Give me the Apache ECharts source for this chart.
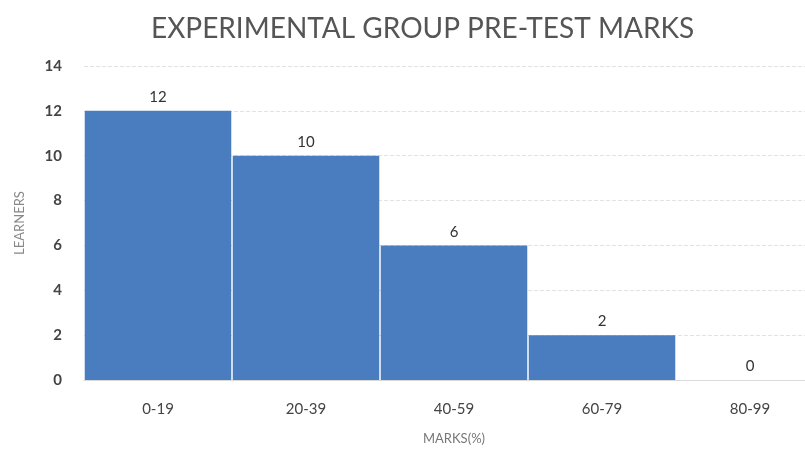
<!DOCTYPE html>
<html>
<head>
<meta charset="utf-8">
<script src="https://cdn.jsdelivr.net/npm/echarts@6/dist/echarts.min.js"></script>
<style>
  html, body { margin: 0; padding: 0; background: #fff; }
  #chart { width: 805px; height: 454px; }
</style>
</head>
<body>
<div id="chart"></div>
<script>
var categories = ['0-19', '20-39', '40-59', '60-79', '80-99']
var learners = [12, 10, 6, 2, 0]
var yTicks = [0, 2, 4, 6, 8, 10, 12, 14]

var myChart = echarts.init(document.getElementById('chart'))
var option = {
  animation: false,
  textStyle: { fontFamily: 'Lato' },
  title: {
    text: 'EXPERIMENTAL GROUP PRE-TEST MARKS',
    left: 146,
    top: 10,
    textStyle: { fontSize: 28, fontWeight: 'normal', color: '#555', fontFamily: 'Lato' }
  },
  grid: { left: 84, width: 740, top: 66, bottom: 74, outerBoundsMode: 'none', containLabel: false },
  xAxis: {
    type: 'category',
    data: categories,
    name: 'MARKS(%)',
    nameLocation: 'middle',
    nameGap: 52,
    nameTextStyle: { color: '#777', fontSize: 13 },
    axisLine: { show: true, lineStyle: { color: '#d9d9d9' } },
    axisTick: { show: false },
    axisLabel: { color: '#444', fontSize: 15, margin: 22 }
  },
  yAxis: {
    type: 'value',
    min: yTicks[0],
    max: yTicks[yTicks.length - 1],
    interval: 2,
    name: 'LEARNERS',
    nameLocation: 'middle',
    nameGap: 58,
    nameTextStyle: { color: '#888', fontSize: 13 },
    axisLine: { show: false },
    axisTick: { show: false },
    axisLabel: { color: '#444', fontSize: 15, fontWeight: 'bold', margin: 22 },
    splitLine: { lineStyle: { color: '#e2e2e2', type: 'dashed' } }
  },
  series: [{
    type: 'bar',
    data: learners,
    barCategoryGap: '1%',
    itemStyle: { color: '#4a7dbf' },
    label: { show: true, position: 'top', color: '#333', fontSize: 15, distance: 6 }
  }]
}
myChart.setOption(option)
</script>
</body>
</html>
